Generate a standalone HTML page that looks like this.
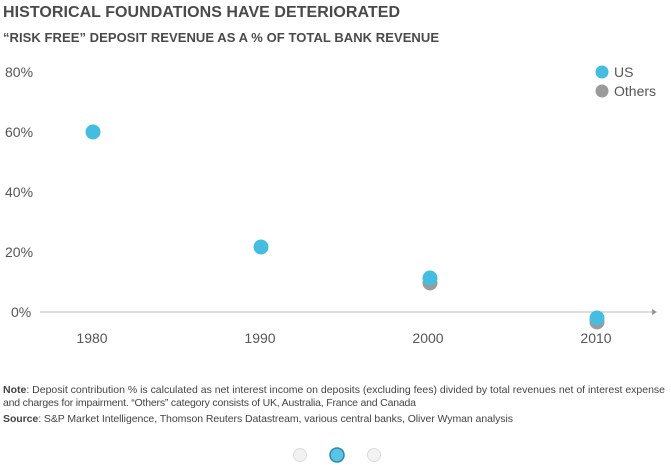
<!DOCTYPE html>
<html><head><style>
body{margin:0;width:671px;height:470px;background:#fff;overflow:hidden;font-family:"Liberation Sans",sans-serif;}
</style></head><body>
<svg width="671" height="470" xmlns="http://www.w3.org/2000/svg" style="position:absolute;left:0;top:0">
<text x="3" y="17" font-size="16" font-weight="bold" fill="#4a4a4a" textLength="397">HISTORICAL FOUNDATIONS HAVE DETERIORATED</text>
<text x="3" y="42" font-size="13" font-weight="bold" fill="#4a4a4a" textLength="436">“RISK FREE” DEPOSIT REVENUE AS A % OF TOTAL BANK REVENUE</text>
<g font-size="14" fill="#555">
<text x="5" y="77">80%</text>
<text x="5" y="137">60%</text>
<text x="5" y="197">40%</text>
<text x="5" y="257">20%</text>
<text x="11" y="317">0%</text>
<text x="92" y="343" text-anchor="middle">1980</text>
<text x="260" y="343" text-anchor="middle">1990</text>
<text x="428" y="343" text-anchor="middle">2000</text>
<text x="596" y="343" text-anchor="middle">2010</text>
</g>
<line x1="40" y1="312" x2="652" y2="312" stroke="#bbb" stroke-width="1"/>
<polygon points="652,309 657,312 652,315" fill="#999"/>
<circle cx="430" cy="283" r="7.5" fill="#9b9b9b"/>
<circle cx="597" cy="322" r="7.5" fill="#9b9b9b"/>
<circle cx="93" cy="132" r="7.5" fill="#45bde0"/>
<circle cx="261" cy="247" r="7.5" fill="#45bde0"/>
<circle cx="430" cy="278" r="7.5" fill="#45bde0"/>
<circle cx="597" cy="318" r="7.5" fill="#45bde0"/>
<circle cx="602" cy="72" r="6.5" fill="#45bde0"/>
<circle cx="602" cy="91" r="6.5" fill="#9b9b9b"/>
<text x="614" y="77" font-size="14" fill="#555">US</text>
<text x="614" y="96" font-size="14" fill="#555">Others</text>
<g font-size="10.5" fill="#444">
<text x="3" y="393" textLength="662"><tspan font-weight="bold">Note</tspan>: Deposit contribution % is calculated as net interest income on deposits (excluding fees) divided by total revenues net of interest expense</text>
<text x="3" y="406" textLength="413">and charges for impairment. “Others” category consists of UK, Australia, France and Canada</text>
<text x="3" y="422" textLength="510"><tspan font-weight="bold">Source</tspan>: S&amp;P Market Intelligence, Thomson Reuters Datastream, various central banks, Oliver Wyman analysis</text>
</g>
<circle cx="300" cy="455" r="6.5" fill="#f2f2f2" stroke="#ddd"/>
<circle cx="337" cy="455" r="7" fill="#5bc3e3" stroke="#2a8cb0" stroke-width="1.5"/>
<circle cx="374" cy="455" r="6.5" fill="#f2f2f2" stroke="#ddd"/>
</svg>
</body></html>
